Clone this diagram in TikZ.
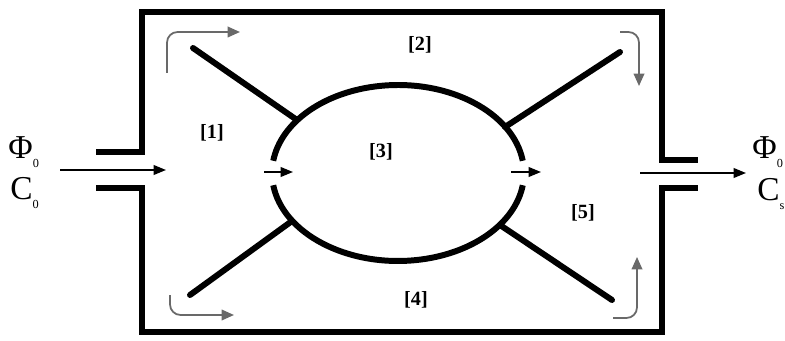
\documentclass[tikz,border=0pt]{standalone}
\usepackage{fontspec}
\setmainfont{Liberation Serif}
\usepackage{xcolor}
\usetikzlibrary{arrows.meta}
\definecolor{flecha}{RGB}{105,105,105}

\begin{document}
\begin{tikzpicture}[x=0.02cm,y=-0.02cm,
  pared/.style={line width=3.4pt,line join=miter},
  brazo/.style={line width=3.4pt,line cap=round},
  flujo/.style={draw=flecha,line width=1pt,rounded corners=6pt,-{Triangle[length=7pt,width=6pt]}},
  paso/.style={line width=0.9pt,-{Triangle[length=7pt,width=5.5pt]}},
  zona/.style={font=\fontsize{11.5}{13}\selectfont\bfseries},
  var/.style={font=\fontsize{19}{21}\selectfont,inner sep=0pt,anchor=west}]
\useasboundingbox (0,0) rectangle (785,341);
% reactor walls
\draw[pared] (96,152) -- (142,152) -- (142,12) -- (662,12) -- (662,160) -- (698,160);
\draw[pared] (96,188) -- (142,188) -- (142,332) -- (662,332) -- (662,188) -- (698,188);
% central body
\coordinate (c) at (398,173);
\draw[pared] (c) ++(8:2.52cm and 1.76cm) arc (8:172:2.52cm and 1.76cm);
\draw[pared] (c) ++(188:2.52cm and 1.76cm) arc (188:352:2.52cm and 1.76cm);
% arms
\coordinate (b1) at (193,48);  \coordinate (e1) at (297,120);
\coordinate (b2) at (620,52);  \coordinate (e2) at (505,127);
\coordinate (b3) at (190,295); \coordinate (e3) at (292,221);
\coordinate (b4) at (612,300); \coordinate (e4) at (500,225);
\draw[brazo] (b1) -- (e1);
\draw[brazo] (b2) -- (e2);
\draw[brazo] (b3) -- (e3);
\draw[brazo] (b4) -- (e4);
% flows
\coordinate (in0) at (60,170);   \coordinate (in1) at (166,170);
\coordinate (out0) at (640,173); \coordinate (out1) at (746,173);
\coordinate (g0) at (264,172);   \coordinate (g1) at (293,172);
\coordinate (h0) at (511,172);   \coordinate (h1) at (541,172);
\draw[paso] (in0) -- (in1);
\draw[paso] (out0) -- (out1);
\draw[paso] (g0) -- (g1);
\draw[paso] (h0) -- (h1);
\coordinate (f1a) at (167,73);  \coordinate (f1b) at (240,32);
\coordinate (f2a) at (620,32);  \coordinate (f2b) at (639,86);
\coordinate (f3a) at (170,295); \coordinate (f3b) at (234,315);
\coordinate (f4a) at (613,318); \coordinate (f4b) at (637,257);
\draw[flujo] (f1a) |- (f1b);
\draw[flujo] (f2a) -| (f2b);
\draw[flujo] (f3a) |- (f3b);
\draw[flujo] (f4a) -| (f4b);
% labels
\node[zona] (z1) at (212,133) {[1]};
\node[zona] (z2) at (420,45) {[2]};
\node[zona] (z3) at (381,152) {[3]};
\node[zona] (z4) at (416,300) {[4]};
\node[zona] (z5) at (583,213) {[5]};
\node[var] (phi0) at (8,152) {Φ\raisebox{-0.6ex}{\scriptsize 0}};
\node[var] (c0) at (10,193) {C\raisebox{-0.6ex}{\scriptsize 0}};
\node[var] (phis) at (752,152) {Φ\raisebox{-0.6ex}{\scriptsize 0}};
\node[var] (cs) at (757,194) {C\raisebox{-0.6ex}{\scriptsize s}};
\end{tikzpicture}
\end{document}
